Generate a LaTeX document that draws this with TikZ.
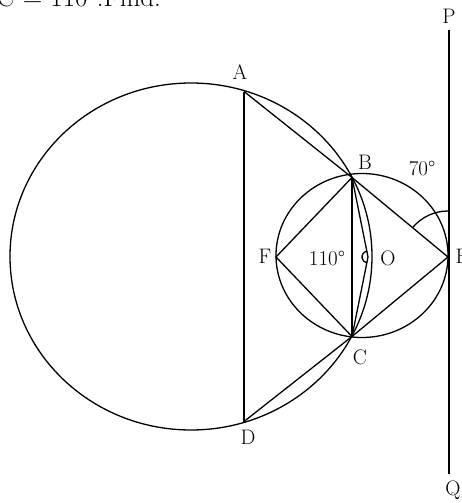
\documentclass[tikz,border=0pt]{standalone}
\begin{document}
\begin{tikzpicture}[x=1pt,y=1pt,line width=1.3pt,
  lbl/.style={font=\fontsize{21}{24}\selectfont, inner sep=0pt}]
\useasboundingbox (0,0) rectangle (462,-503);
\clip (0,0) rectangle (462,-503);
% points
\coordinate (A) at (244,-91.5);
\coordinate (B) at (352,-177.5);
\coordinate (C) at (352,-336.5);
\coordinate (D) at (244,-421.5);
\coordinate (F) at (276,-257);
\coordinate (E) at (448,-257);
\coordinate (O) at (368,-257);
\coordinate (P) at (449,-30);
\coordinate (Q) at (449,-474);
% circles
\draw (191,-256.5) ellipse [x radius=181, y radius=173.5];
\draw (362,-255.5) ellipse [x radius=86, y radius=82];
% segments
\draw (A) -- (D);
\draw (A) -- (B);
\draw (D) -- (C);
\draw (B) -- (C);
\draw (F) -- (B) -- (E) -- (C) -- cycle;
\draw (B) -- (O) -- (C);
\draw ([shift={(101:6)}]O) arc[start angle=101,end angle=259,radius=6];
\draw (P) -- (Q);
\draw ([shift={(90:46)}]E) arc[start angle=90,end angle=140,radius=46];
% labels
\node[lbl] (lP) at (449,-16) {P};
\node[lbl] (lA) at (240,-72) {A};
\node[lbl] (lB) at (365,-162) {B};
\node[lbl] (l70) at (422,-168) {70\textdegree};
\node[lbl] (lF) at (265,-256) {F};
\node[lbl] (l110) at (327,-258) {110\textdegree};
\node[lbl] (lO) at (388,-258) {O};
\node[lbl] (lC) at (360,-357) {C};
\node[lbl] (lD) at (248,-437) {D};
\node[lbl] (lQ) at (453,-490) {Q};
\node[lbl,anchor=west] (lE) at (455,-256) {E};
\node[lbl,font=\fontsize{27}{30}\selectfont,anchor=base west] (top) at (-4,-7) {C = 110\textdegree.Find.};
\end{tikzpicture}
\end{document}
